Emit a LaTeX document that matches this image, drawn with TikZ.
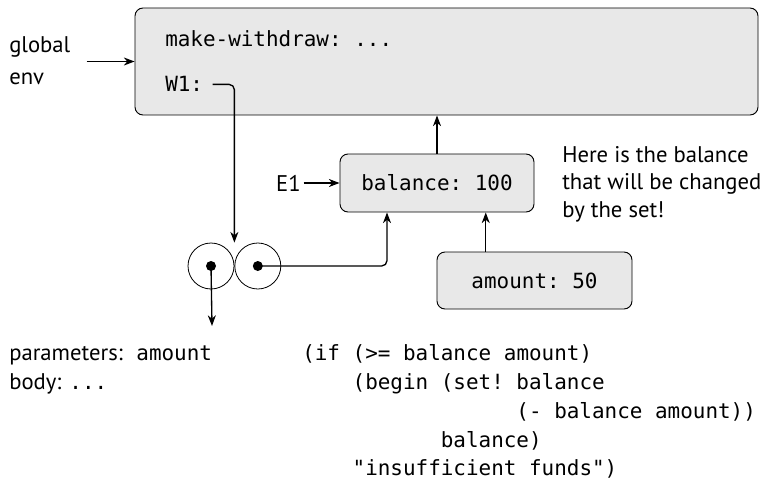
\documentclass[tikz,border=0pt]{standalone}
\usepackage{fontspec}
\setmainfont{PT Sans}
\setmonofont{DejaVu Sans Mono}
\usepackage{tikz}
\usetikzlibrary{arrows.meta,positioning,calc}

\definecolor{framegray}{RGB}{232,232,232}
\newcommand{\codefont}{\fontsize{15.7}{18}\ttfamily}
\newcommand{\txtfont}{\fontsize{17}{20.6}\selectfont}

\tikzset{
  frame/.style={draw, fill=framegray, rounded corners=6pt, line width=0.7pt},
  link/.style={-{Stealth[length=8pt,width=6pt,inset=2.5pt]}, line width=1pt},
  code/.style={font=\codefont, anchor=base west, inner sep=0pt},
  txt/.style={font=\txtfont, anchor=base west, inner sep=0pt},
  cell/.style={draw, circle, minimum size=34.5pt, inner sep=0pt, line width=0.6pt},
  dot/.style={circle, fill, minimum size=7.5pt, inner sep=0pt}
}

\begin{document}
\begin{tikzpicture}[x=0.75pt, y=-0.75pt]
  \useasboundingbox (0,0) rectangle (762,481);

  % Global environment
  \node[frame, minimum width=467.25pt, minimum height=80.25pt] (genv) at (446.5,61.5) {};
  \node[code] (mkw) at (165,47) {make-withdraw: ...};
  \node[code] (w1) at (165,92) {W1:};
  \node[txt] (glob) at (9,53) {global};
  \node[txt] (env) at (9,85) {env};
  \draw[link] ([xshift=-36pt]genv.west) -- (genv.west);

  % Frame E1
  \node[frame, font=\codefont, minimum width=145.5pt, minimum height=43.5pt] (bal) at (437,183) {balance: 100};
  \node[font=\txtfont, inner sep=2pt, left=27pt of bal] (e1) {E1};
  \draw[link] (e1) -- (bal);
  \draw[link] (bal.north) -- (bal.north |- genv.south);

  % Frame of the call
  \node[frame, font=\codefont, minimum width=146.25pt, minimum height=42.75pt] (amt) at (534.5,280.5) {amount: 50};
  \coordinate (balmid) at ($(bal.south)!.5!(bal.south east)$);
  \draw[link] (amt.north -| balmid) -- (balmid);

  % Procedure object
  \node[cell] (cl) at (211,266) {};
  \node[cell, right=0pt of cl] (cr) {};
  \node[dot] (dl) at (cl.center) {};
  \node[dot] (dr) at (cr.center) {};
  \draw[link, rounded corners=4pt] ([xshift=7pt]w1.east) -| (cl.east |- cl.north);
  \draw[link, rounded corners=4pt] (dr.center) -| ($(bal.south)+(-50,0)$);
  \coordinate (params) at (212,326);
  \draw[link] (dl.center) -- (params);

  % Note
  \node[txt, align=left, anchor=north west] (note) at (562,146) {Here is the balance\\that will be changed\\by the set!};

  % Parameters and body
  \node[txt] (par) at (9,360) {parameters:\hspace{0.6em}{\codefont amount}};
  \node[txt] (body) at (9,389) {body: {\codefont ...}};

  % Code of the body
  \node[code] (code1) at (302,360) {(if (>= balance amount)};
  \node[code] (code2) at (352.4,389) {(begin (set! balance};
  \node[code] (code3) at (516.2,418) {(- balance amount))};
  \node[code] (code4) at (440.6,447) {balance)};
  \node[code] (code5) at (352.4,475) {"insufficient funds")};
\end{tikzpicture}
\end{document}
